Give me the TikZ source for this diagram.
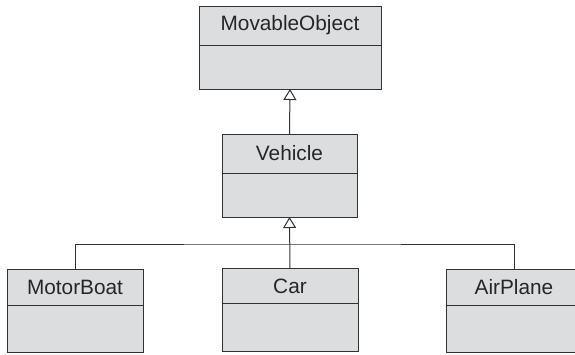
\documentclass[tikz,border=0pt]{standalone}
\usepackage{fontspec}
\setmainfont{Liberation Sans}
\usetikzlibrary{arrows.meta}
\definecolor{boxgray}{RGB}{220,221,223}
\definecolor{linegray}{RGB}{50,50,52}
% name, x, y, label, width, head height, body height
\def\cls#1#2#3#4#5#6#7{\node[head, minimum width=#5, minimum height=#6] (#1) at (#2,#3) {#4};
    \node[body, minimum width=#5, minimum height=#7, anchor=north] (#1-b) at (#1.south) {};}
\begin{document}
\begin{tikzpicture}[x=1pt,y=-1pt,
    head/.style={draw=linegray, fill=boxgray, line width=1pt,
        inner sep=0pt, outer sep=0pt, text=black!85,
        font=\fontsize{20.8}{24}\selectfont},
    body/.style={draw=linegray, fill=boxgray, line width=1pt,
        inner sep=0pt, outer sep=0pt},
    link/.style={draw=linegray, line width=1pt},
    inherit/.style={link, -{Triangle[open, width=13pt, length=11pt]}}]
    \useasboundingbox (0,0) rectangle (575,354);
    \cls{mov}{290}{25.5}{MovableObject}{182pt}{39pt}{44pt}
    \cls{veh}{289.5}{153.5}{Vehicle}{135pt}{39pt}{44pt}
    \cls{mb}{75}{287.5}{MotorBoat}{136pt}{36pt}{47pt}
    \cls{car}{290}{286}{Car}{136pt}{35pt}{48pt}
    \cls{ap}{514}{287.5}{AirPlane}{136pt}{36pt}{47pt}
    \coordinate (bus) at (290,244);
    \draw[inherit] (veh.north) -- (mov-b.south);
    \draw[inherit] (car.north) -- (veh-b.south);
    \draw[link] (mb.north) |- (bus) -| (ap.north);
\end{tikzpicture}
\end{document}
